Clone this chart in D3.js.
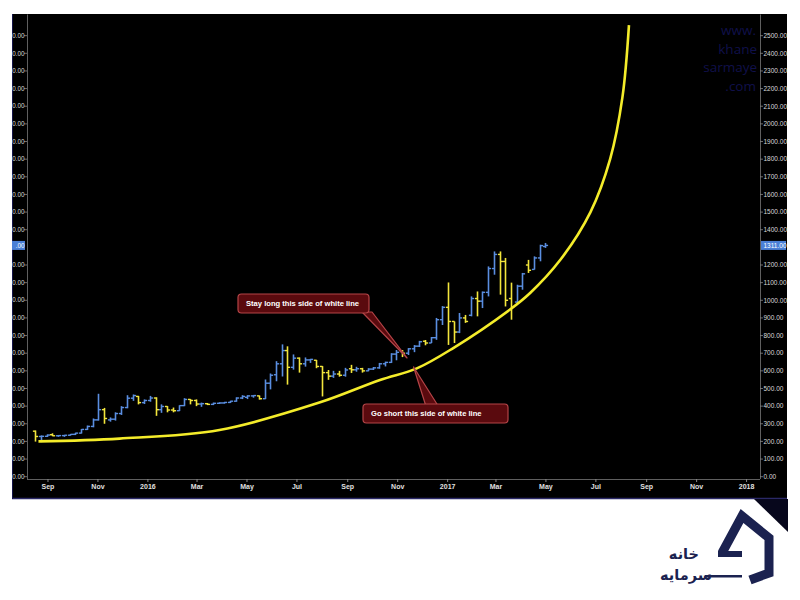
<!DOCTYPE html>
<html><head><meta charset="utf-8">
<script src="https://cdn.jsdelivr.net/npm/d3@7"></script>
<style>body{margin:0;background:#fff}svg{display:block}</style>
</head><body>
<svg id="c" width="800" height="600"></svg>
<script>
// ---------- DATA ----------
const dates = ["2015-08-17","2015-08-24","2015-08-31","2015-09-07","2015-09-14","2015-09-21","2015-09-28","2015-10-05","2015-10-12","2015-10-19",
"2015-10-26","2015-11-02","2015-11-09","2015-11-16","2015-11-23","2015-11-30","2015-12-07","2015-12-14","2015-12-21","2015-12-28",
"2016-01-04","2016-01-11","2016-01-18","2016-01-25","2016-02-01","2016-02-08","2016-02-15","2016-02-22","2016-02-29","2016-03-07",
"2016-03-14","2016-03-21","2016-03-28","2016-04-04","2016-04-11","2016-04-18","2016-04-25","2016-05-02","2016-05-09","2016-05-16",
"2016-05-23","2016-05-30","2016-06-06","2016-06-13","2016-06-20","2016-06-27","2016-07-04","2016-07-11","2016-07-18","2016-07-25",
"2016-08-01","2016-08-08","2016-08-15","2016-08-22","2016-08-29","2016-09-05","2016-09-12","2016-09-19","2016-09-26","2016-10-03",
"2016-10-10","2016-10-17","2016-10-24","2016-10-31","2016-11-07","2016-11-14","2016-11-21","2016-11-28","2016-12-05","2016-12-12",
"2016-12-19","2016-12-26","2017-01-02","2017-01-09","2017-01-16","2017-01-23","2017-01-30","2017-02-06","2017-02-13","2017-02-20",
"2017-02-27","2017-03-06","2017-03-13","2017-03-20","2017-03-27","2017-04-03","2017-04-10","2017-04-17","2017-04-24","2017-05-01"];
const open  = [258,228,229,238,232,233,235,240,247,268, 285,322,380,322,326,358,392,445,455,420, 432,446,380,398,378,374,403,438,432,412,
               414,410,416,418,421,428,446,450,458,458, 442,530,578,640,715,620,672,640,662,660, 625,590,570,582,575,612,606,612,600,610,
               617,640,648,695,710,700,725,740,768,758, 788,890,960,880,820,900,915,1010,995,1045, 1180,1260,1220,1010,990,1080,1200,1175,1240,1305];
const high  = [262,234,240,246,236,237,242,249,270,290, 330,470,390,336,365,400,462,466,458,438, 458,450,410,400,392,405,445,440,438,420,
               418,420,422,424,430,450,462,462,462,460, 551,585,655,750,739,693,676,676,668,662, 627,605,600,600,617,634,623,617,615,622,
               645,652,700,718,718,729,746,770,775,792, 900,967,1101,880,928,917,1022,1050,1050,1192, 1277,1277,1240,1100,1088,1155,1229,1249,1315,1325];
const low   = [199,196,225,230,226,226,233,236,245,265, 280,318,300,312,318,350,388,430,410,412, 425,345,362,365,365,372,400,410,400,396,
               406,406,412,414,418,425,440,440,448,437, 440,495,541,568,522,607,590,624,645,615, 455,549,560,567,567,588,595,590,598,605,
               612,625,645,660,678,690,706,735,745,758, 776,860,747,758,814,872,909,909,956,1022, 1145,1032,965,890,985,1060,1155,1174,1221,1297];
const close = [228,229,236,232,233,235,240,247,268,285, 322,380,330,326,358,392,445,460,420,432, 446,380,398,378,374,403,438,432,412,414,
               410,416,418,421,428,446,455,458,460,442, 530,575,640,715,620,672,640,662,665,625, 590,570,582,575,605,606,612,600,610,617,
               640,648,695,705,700,725,740,765,758,788, 890,960,880,820,900,880,1010,995,1045,1180, 1260,1220,1000,960,1080,1150,1170,1240,1310,1311];

// parabolic support line
const curveDates  = ["2015-08-21","2015-11-28","2016-03-29","2016-07-29","2016-10-11","2016-11-25","2017-01-08","2017-03-18","2017-04-12","2017-05-19","2017-06-25","2017-07-19","2017-08-03","2017-08-11"];
const curvePrices = [200,216,265,420,548,614,728,945,1040,1228,1500,1800,2150,2560];

const yTicks = [0,100,200,300,400,500,600,700,800,900,1000,1100,1200,1400,1500,1600,1700,1800,1900,2000,2100,2200,2300,2400,2500];
const xTickDates  = ["2015-09-01","2015-11-01","2016-01-01","2016-03-01","2016-05-01","2016-07-01","2016-09-01","2016-11-01",
                     "2017-01-01","2017-03-01","2017-05-01","2017-07-01","2017-09-01","2017-11-01","2018-01-01"];
const xTickLabels = ["Sep","Nov","2016","Mar","May","Jul","Sep","Nov","2017","Mar","May","Jul","Sep","Nov","2018"];
const lastPrice = 1311;

const noteTexts = ["Stay long this side of white line","Go short this side of white line"];
const noteTipDates = ["2016-11-13","2016-11-21"];
const noteTipPrices = [673, 622];

const watermark = ["www.","khane","sarmaye",".com"];
const logoLines = ["خانه","سرمایه"];

// ---------- DRAW ----------
const parse = d3.utcParse("%Y-%m-%d");
const fmt = d3.format(".2f");
const svg = d3.select("#c");
svg.append("rect").attr("width",800).attr("height",600).attr("fill","#fff");

// panel
svg.append("rect").attr("x",12).attr("y",14).attr("width",775).attr("height",485).attr("fill","#000");
svg.append("line").attr("x1",12).attr("x2",787).attr("y1",498.5).attr("y2",498.5).attr("stroke","#2a2866").attr("stroke-width",1.5);
svg.append("line").attr("x1",12.5).attr("x2",12.5).attr("y1",14).attr("y2",499).attr("stroke","#15154a").attr("stroke-width",1);
svg.append("path").attr("d","M754,499 L788,499 L788,532 Z").attr("fill","#07071c");

const L = 27, R = 760, T = 14.5, B = 479;
const x = d3.scaleUtc().domain([parse("2015-08-07"), parse("2018-01-18")]).range([L, R]);
const y = d3.scaleLinear().domain([0, 2620]).range([476.7, 14.5]);

// watermark
const wm = svg.append("g").attr("font-family","Open Sans, Liberation Sans, sans-serif").attr("font-size",13.5)
  .attr("fill","#10104a").attr("text-anchor","end");
watermark.forEach((t,i)=> wm.append("text").attr("x",[756,757,757,756][i]).attr("y",[35,53.5,72,90.5][i]).text(t));

// left axis (the chart is cropped here: only the tail of each label shows)
const axL = svg.append("g").attr("font-family","Liberation Sans, Arial, sans-serif").attr("font-size",6.3);
axL.append("line").attr("x1",L+0.5).attr("x2",L+0.5).attr("y1",T).attr("y2",B).attr("stroke","#777").attr("stroke-width",0.8);
yTicks.forEach(v=>{
  axL.append("line").attr("x1",L-3).attr("x2",L).attr("y1",y(v)).attr("y2",y(v)).attr("stroke","#888").attr("stroke-width",0.8);
  axL.append("text").attr("x",24.5).attr("y",y(v)).attr("dy","0.35em").attr("text-anchor","end").attr("fill","#d8d8d8").text(fmt(v).slice(-4));
});
axL.append("rect").attr("x",12).attr("y",y(lastPrice)-4.5).attr("width",13).attr("height",9).attr("fill","#4a7fd6");
axL.append("text").attr("x",24.5).attr("y",y(lastPrice)).attr("dy","0.35em").attr("text-anchor","end").attr("fill","#fff").text(fmt(lastPrice).slice(-3));

// right axis
const axR = svg.append("g").attr("font-family","Liberation Sans, Arial, sans-serif").attr("font-size",6.5);
axR.append("line").attr("x1",R+0.5).attr("x2",R+0.5).attr("y1",T).attr("y2",B).attr("stroke","#777").attr("stroke-width",0.8);
yTicks.forEach(v=>{
  axR.append("line").attr("x1",R).attr("x2",R+3).attr("y1",y(v)).attr("y2",y(v)).attr("stroke","#888").attr("stroke-width",0.8);
  axR.append("text").attr("x",R+3.5).attr("y",y(v)).attr("dy","0.35em").attr("fill","#d8d8d8").text(fmt(v));
});
axR.append("rect").attr("x",R+1).attr("y",y(lastPrice)-4.5).attr("width",25).attr("height",9).attr("fill","#4a7fd6");
axR.append("text").attr("x",R+3.5).attr("y",y(lastPrice)).attr("dy","0.35em").attr("fill","#fff").text(fmt(lastPrice));

// bottom axis
const xAxis = d3.axisBottom(x).tickValues(xTickDates.map(parse)).tickFormat((d,i)=>xTickLabels[i]).tickSize(3).tickPadding(2);
const gx = svg.append("g").attr("transform",`translate(0,${B})`).call(xAxis);
gx.select(".domain").attr("stroke","#777").attr("stroke-width",0.8).attr("d",`M${L},0.5H${R}`);
gx.selectAll(".tick line").attr("stroke","#888");
gx.selectAll(".tick text").attr("fill","#e0e0e0").attr("font-size",7).attr("font-weight","bold")
  .attr("font-family","Liberation Sans, Arial, sans-serif");

// OHLC bars
const up = "#5a8ee0", down = "#f3e63c";
const bars = svg.append("g");
dates.forEach((ds,i)=>{
  const cx = Math.round(x(parse(ds))) + 0.5;
  const col = close[i] >= open[i] ? up : down;
  const g = bars.append("g").attr("stroke",col).attr("stroke-width",1.6);
  g.append("line").attr("x1",cx).attr("x2",cx).attr("y1",y(high[i])).attr("y2",y(low[i]));
  g.append("line").attr("x1",cx-2.6).attr("x2",cx).attr("y1",y(open[i])).attr("y2",y(open[i])).attr("stroke-width",1.4);
  g.append("line").attr("x1",cx).attr("x2",cx+2.6).attr("y1",y(close[i])).attr("y2",y(close[i])).attr("stroke-width",1.4);
});

// curve
const pts = curveDates.map((d,i)=>[x(parse(d)), y(curvePrices[i])]);
svg.append("path").attr("d", d3.line().curve(d3.curveCatmullRom.alpha(0.5))(pts))
  .attr("fill","none").attr("stroke","#f4ec2a").attr("stroke-width",2.6);

// annotations
const noteFill = "#5a0a0e", noteStroke = "#b44447";
const tips = noteTipDates.map((d,i)=>[x(parse(d)), y(noteTipPrices[i])]);
const boxes = [{x:238,y:294,w:131,h:19},{x:363,y:404,w:145,h:19}];
const p1 = [[tips[0][0]-45,boxes[0].y+boxes[0].h-1],[tips[0][0]-35,boxes[0].y+boxes[0].h-1],tips[0]];
const p2 = [[tips[1][0]+12,boxes[1].y+1],[tips[1][0]+24,boxes[1].y+1],tips[1]];
[p1,p2].forEach(p=> svg.append("path").attr("d","M"+p.join("L")+"Z").attr("fill",noteFill).attr("stroke",noteStroke).attr("stroke-width",1.2).attr("stroke-linejoin","round"));
boxes.forEach(b=> svg.append("rect").attr("x",b.x).attr("y",b.y).attr("width",b.w).attr("height",b.h).attr("rx",3.5)
    .attr("fill",noteFill).attr("stroke",noteStroke).attr("stroke-width",1.2));
boxes.forEach((b,i)=> svg.append("text").attr("x",b.x+8).attr("y",b.y+b.h/2).attr("dy","0.35em")
    .attr("font-family","Liberation Sans, Arial, sans-serif").attr("font-weight","bold").attr("font-size",7.6)
    .attr("fill","#fff").text(noteTexts[i]));

// logo
const navy = "#1b2250";
const logo = svg.append("g");
logo.append("path").attr("d","M722,553 L742,516 L769,538 L769,573 L750,580")
  .attr("fill","none").attr("stroke",navy).attr("stroke-width",9).attr("stroke-linejoin","miter");
logo.append("rect").attr("x",718).attr("y",551).attr("width",24).attr("height",6).attr("fill",navy);
logo.append("rect").attr("x",705).attr("y",575).attr("width",37).attr("height",2.5).attr("fill",navy);
logo.selectAll("text").data(logoLines).join("text")
  .attr("x",(d,i)=>i?712:699).attr("y",(d,i)=>i?580:559).attr("text-anchor","end")
  .attr("font-family","DejaVu Sans, sans-serif").attr("font-weight","bold").attr("font-size",14.5)
  .attr("fill",navy).text(d=>d);
</script>
</body></html>
